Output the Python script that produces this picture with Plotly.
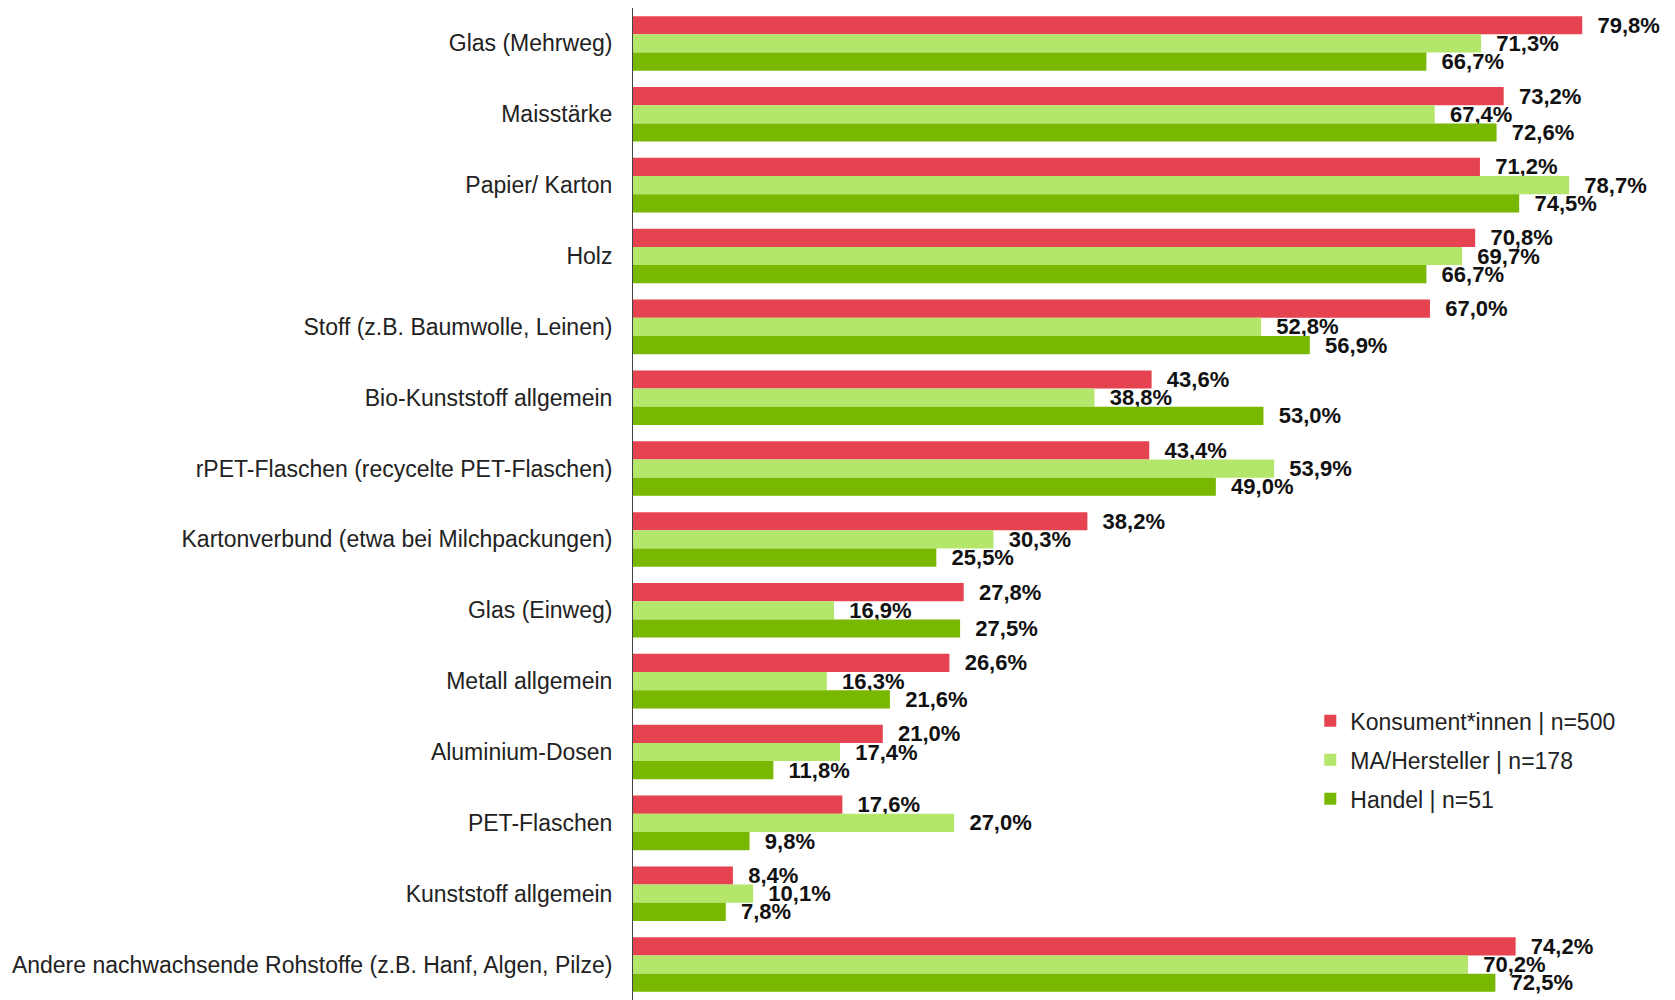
import plotly.graph_objects as go

# categories top to bottom
categories = [
    "Glas (Mehrweg)",
    "Maisstärke",
    "Papier/ Karton",
    "Holz",
    "Stoff (z.B. Baumwolle, Leinen)",
    "Bio-Kunststoff allgemein",
    "rPET-Flaschen (recycelte PET-Flaschen)",
    "Kartonverbund (etwa bei Milchpackungen)",
    "Glas (Einweg)",
    "Metall allgemein",
    "Aluminium-Dosen",
    "PET-Flaschen",
    "Kunststoff allgemein",
    "Andere nachwachsende Rohstoffe (z.B. Hanf, Algen, Pilze)",
]

konsument = [79.8, 73.2, 71.2, 70.8, 67.0, 43.6, 43.4, 38.2, 27.8, 26.6, 21.0, 17.6, 8.4, 74.2]
hersteller = [71.3, 67.4, 78.7, 69.7, 52.8, 38.8, 53.9, 30.3, 16.9, 16.3, 17.4, 27.0, 10.1, 70.2]
handel = [66.7, 72.6, 74.5, 66.7, 56.9, 53.0, 49.0, 25.5, 27.5, 21.6, 11.8, 9.8, 7.8, 72.5]

series = [
    ("Konsument*innen | n=500", konsument, "#E5434F"),
    ("MA/Hersteller | n=178", hersteller, "#B3E66A"),
    ("Handel | n=51", handel, "#78B800"),
]


def fmt(v):
    return "  " + f"{v:.1f}".replace(".", ",") + "%"


fig = go.Figure()
for i, (name, vals, col) in enumerate(series):
    fig.add_trace(go.Bar(
        y=categories,
        x=vals,
        name=name,
        legendgroup=str(i),
        orientation="h",
        marker=dict(color=col, line=dict(width=0)),
        text=[fmt(v) for v in vals],
        textposition="outside",
        constraintext="none",
        cliponaxis=False,
        textfont=dict(family="Liberation Sans", size=22, color="#111111", weight="bold"),
    ))

fig.update_layout(
    width=1667,
    height=992,
    barmode="group",
    bargap=0.23,
    bargroupgap=0.0,
    plot_bgcolor="white",
    paper_bgcolor="white",
    margin=dict(l=625, r=0, t=0, b=0),
    font=dict(family="Liberation Sans", size=23, color="#222222"),
    xaxis=dict(range=[0, 87.6], visible=False, showgrid=False, zeroline=False),
    yaxis=dict(
        autorange="reversed",
        showline=True,
        linecolor="#444444",
        linewidth=1,
        ticks="",
        ticklabelstandoff=15,
        showgrid=False,
        tickfont=dict(size=23, color="#222222"),
    ),
    legend=dict(
        x=0.65, y=0.303, xanchor="left", yanchor="top",
        font=dict(size=23, color="#222222"),
        itemwidth=30,
        traceorder="grouped",
        tracegroupgap=6,
        bgcolor="rgba(0,0,0,0)",
    ),
    showlegend=True,
)

fig.write_html("out.html")
